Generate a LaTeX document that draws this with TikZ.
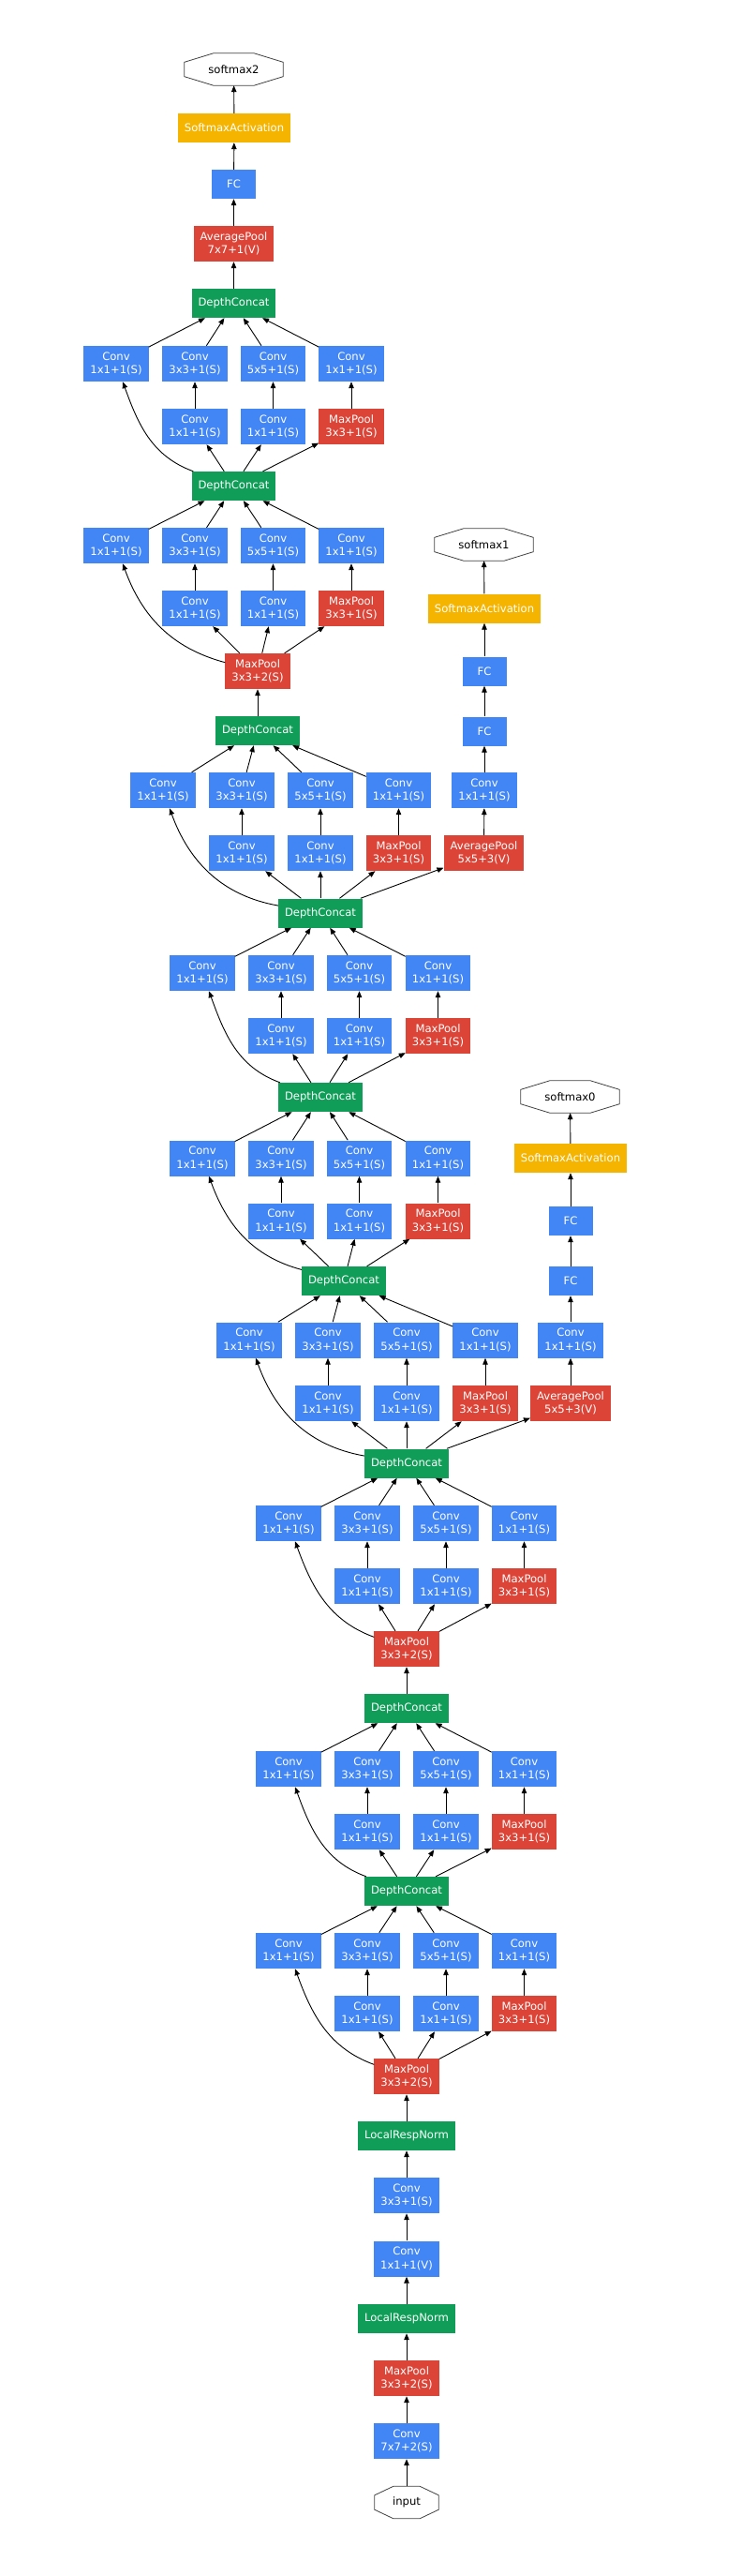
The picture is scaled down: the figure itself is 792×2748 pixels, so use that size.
\documentclass[tikz,border=0pt]{standalone}
\usepackage{fontspec}
\setmainfont{DejaVu Sans}
\usetikzlibrary{arrows.meta}
\definecolor{gblue}{HTML}{4285F4}
\definecolor{gred}{HTML}{DB4437}
\definecolor{ggreen}{HTML}{0F9D58}
\definecolor{gyellow}{HTML}{F4B400}
% octagon round a named node: name, horizontal cut
\newcommand{\octo}[2]{\draw[draw=black!75, line width=0.8pt]
  ([xshift=#2]#1.north west) -- ([xshift=-#2]#1.north east) -- ([yshift=-9.5pt]#1.north east)
  -- ([yshift=9.5pt]#1.south east) -- ([xshift=-#2]#1.south east) -- ([xshift=#2]#1.south west)
  -- ([yshift=9.5pt]#1.south west) -- ([yshift=-9.5pt]#1.north west) -- cycle;}

\begin{document}
\begin{tikzpicture}[x=1pt, y=1pt, >={Triangle[length=7pt,width=5.5pt]},
  every node/.style={font=\fontsize{11.6pt}{14.5pt}\selectfont, align=center},
  blk/.style={rectangle, text=white, inner xsep=7pt, inner ysep=2pt, minimum width=47pt, minimum height=31pt},
  conv/.style={blk, fill=gblue, minimum height=38pt},
  fc/.style={blk, fill=gblue},
  pool/.style={blk, fill=gred, minimum height=38pt},
  concat/.style={blk, fill=ggreen},
  act/.style={blk, fill=gyellow},
  io/.style={rectangle, text=black, inner sep=0pt, minimum height=34pt, minimum width=#1}]
\useasboundingbox (0,0) rectangle (792,-2748);

% stem
\node[io=68pt] (in) at (434,-2669.5) {input};
\node[conv] (c7) at (434,-2604) {Conv\\7x7+2(S)};
\node[pool] (mp1) at (434,-2537) {MaxPool\\3x3+2(S)};
\node[concat] (lrn1) at (434,-2473.5) {LocalRespNorm};
\node[conv] (c1v) at (434,-2409.5) {Conv\\1x1+1(V)};
\node[conv] (c3) at (434,-2342) {Conv\\3x3+1(S)};
\node[concat] (lrn2) at (434,-2278.5) {LocalRespNorm};
\node[pool] (mp2) at (434,-2215) {MaxPool\\3x3+2(S)};

% 3a
\node[conv] (a3_3r) at (392,-2148) {Conv\\1x1+1(S)};
\node[conv] (a3_5r) at (476,-2148) {Conv\\1x1+1(S)};
\node[pool] (a3_p) at (559.5,-2148) {MaxPool\\3x3+1(S)};
\node[conv] (a3_1) at (308,-2081) {Conv\\1x1+1(S)};
\node[conv] (a3_3) at (392,-2081) {Conv\\3x3+1(S)};
\node[conv] (a3_5) at (476,-2081) {Conv\\5x5+1(S)};
\node[conv] (a3_pp) at (559.5,-2081) {Conv\\1x1+1(S)};
\node[concat] (a3_dc) at (434,-2017.5) {DepthConcat};

% 3b
\node[conv] (b3_3r) at (392,-1954) {Conv\\1x1+1(S)};
\node[conv] (b3_5r) at (476,-1954) {Conv\\1x1+1(S)};
\node[pool] (b3_p) at (559.5,-1954) {MaxPool\\3x3+1(S)};
\node[conv] (b3_1) at (308,-1887) {Conv\\1x1+1(S)};
\node[conv] (b3_3) at (392,-1887) {Conv\\3x3+1(S)};
\node[conv] (b3_5) at (476,-1887) {Conv\\5x5+1(S)};
\node[conv] (b3_pp) at (559.5,-1887) {Conv\\1x1+1(S)};
\node[concat] (b3_dc) at (434,-1822.5) {DepthConcat};
\node[pool] (mp3) at (434,-1759) {MaxPool\\3x3+2(S)};

% 4a
\node[conv] (a4_3r) at (392,-1692) {Conv\\1x1+1(S)};
\node[conv] (a4_5r) at (476,-1692) {Conv\\1x1+1(S)};
\node[pool] (a4_p) at (559.5,-1692) {MaxPool\\3x3+1(S)};
\node[conv] (a4_1) at (308,-1625) {Conv\\1x1+1(S)};
\node[conv] (a4_3) at (392,-1625) {Conv\\3x3+1(S)};
\node[conv] (a4_5) at (476,-1625) {Conv\\5x5+1(S)};
\node[conv] (a4_pp) at (559.5,-1625) {Conv\\1x1+1(S)};
\node[concat] (a4_dc) at (434,-1561) {DepthConcat};

% 4b
\node[conv] (b4_3r) at (350,-1497) {Conv\\1x1+1(S)};
\node[conv] (b4_5r) at (434,-1497) {Conv\\1x1+1(S)};
\node[pool] (b4_p) at (518,-1497) {MaxPool\\3x3+1(S)};
\node[conv] (b4_1) at (266,-1429.5) {Conv\\1x1+1(S)};
\node[conv] (b4_3) at (350,-1429.5) {Conv\\3x3+1(S)};
\node[conv] (b4_5) at (434,-1429.5) {Conv\\5x5+1(S)};
\node[conv] (b4_pp) at (518,-1429.5) {Conv\\1x1+1(S)};
\node[concat] (b4_dc) at (367,-1366.5) {DepthConcat};

% softmax0
\node[pool] (ap0) at (609,-1497) {AveragePool\\5x5+3(V)};
\node[conv] (ac0) at (609,-1429.5) {Conv\\1x1+1(S)};
\node[fc] (fa0) at (609,-1366.5) {FC};
\node[fc] (fb0) at (609,-1302.5) {FC};
\node[act] (sa0) at (609,-1235.5) {SoftmaxActivation};
\node[io=105pt] (sm0) at (608.5,-1170) {softmax0};

% 4c
\node[conv] (c4_3r) at (300,-1302.5) {Conv\\1x1+1(S)};
\node[conv] (c4_5r) at (383.5,-1302.5) {Conv\\1x1+1(S)};
\node[pool] (c4_p) at (467.5,-1302.5) {MaxPool\\3x3+1(S)};
\node[conv] (c4_1) at (216,-1235.5) {Conv\\1x1+1(S)};
\node[conv] (c4_3) at (300,-1235.5) {Conv\\3x3+1(S)};
\node[conv] (c4_5) at (383.5,-1235.5) {Conv\\5x5+1(S)};
\node[conv] (c4_pp) at (467.5,-1235.5) {Conv\\1x1+1(S)};
\node[concat] (c4_dc) at (342,-1170.5) {DepthConcat};

% 4d
\node[conv] (d4_3r) at (300,-1105) {Conv\\1x1+1(S)};
\node[conv] (d4_5r) at (383.5,-1105) {Conv\\1x1+1(S)};
\node[pool] (d4_p) at (467.5,-1105) {MaxPool\\3x3+1(S)};
\node[conv] (d4_1) at (216,-1038) {Conv\\1x1+1(S)};
\node[conv] (d4_3) at (300,-1038) {Conv\\3x3+1(S)};
\node[conv] (d4_5) at (383.5,-1038) {Conv\\5x5+1(S)};
\node[conv] (d4_pp) at (467.5,-1038) {Conv\\1x1+1(S)};
\node[concat] (d4_dc) at (342,-974) {DepthConcat};

% softmax1
\node[pool] (ap1) at (516.5,-910) {AveragePool\\5x5+3(V)};
\node[conv] (ac1) at (517,-843) {Conv\\1x1+1(S)};
\node[fc] (fa1) at (517,-780) {FC};
\node[fc] (fb1) at (517,-716) {FC};
\node[act] (sa1) at (517,-649) {SoftmaxActivation};
\node[io=105pt] (sm1) at (516.5,-581) {softmax1};

% 4e
\node[conv] (e4_3r) at (258,-910) {Conv\\1x1+1(S)};
\node[conv] (e4_5r) at (342,-910) {Conv\\1x1+1(S)};
\node[pool] (e4_p) at (425.5,-910) {MaxPool\\3x3+1(S)};
\node[conv] (e4_1) at (174,-843) {Conv\\1x1+1(S)};
\node[conv] (e4_3) at (258,-843) {Conv\\3x3+1(S)};
\node[conv] (e4_5) at (342,-843) {Conv\\5x5+1(S)};
\node[conv] (e4_pp) at (425.5,-843) {Conv\\1x1+1(S)};
\node[concat] (e4_dc) at (275,-779.5) {DepthConcat};
\node[pool] (mp4) at (275,-716) {MaxPool\\3x3+2(S)};

% 5a
\node[conv] (a5_3r) at (208,-649) {Conv\\1x1+1(S)};
\node[conv] (a5_5r) at (291.5,-649) {Conv\\1x1+1(S)};
\node[pool] (a5_p) at (375,-649) {MaxPool\\3x3+1(S)};
\node[conv] (a5_1) at (124,-582) {Conv\\1x1+1(S)};
\node[conv] (a5_3) at (208,-582) {Conv\\3x3+1(S)};
\node[conv] (a5_5) at (291.5,-582) {Conv\\5x5+1(S)};
\node[conv] (a5_pp) at (375,-582) {Conv\\1x1+1(S)};
\node[concat] (a5_dc) at (249.5,-518.5) {DepthConcat};

% 5b
\node[conv] (b5_3r) at (208,-455) {Conv\\1x1+1(S)};
\node[conv] (b5_5r) at (291.5,-455) {Conv\\1x1+1(S)};
\node[pool] (b5_p) at (375,-455) {MaxPool\\3x3+1(S)};
\node[conv] (b5_1) at (124,-388) {Conv\\1x1+1(S)};
\node[conv] (b5_3) at (208,-388) {Conv\\3x3+1(S)};
\node[conv] (b5_5) at (291.5,-388) {Conv\\5x5+1(S)};
\node[conv] (b5_pp) at (375,-388) {Conv\\1x1+1(S)};
\node[concat] (b5_dc) at (249.5,-323.5) {DepthConcat};

% softmax2
\node[pool] (ap2) at (249.5,-260) {AveragePool\\7x7+1(V)};
\node[fc] (fc2) at (249.5,-196.5) {FC};
\node[act] (sa2) at (250,-136.5) {SoftmaxActivation};
\node[io=105pt] (sm2) at (249.5,-74) {softmax2};

\octo{in}{20pt}
\octo{sm0}{31pt}
\octo{sm1}{31pt}
\octo{sm2}{31pt}

\path[->, line width=0.9pt]
  (in) edge (c7) (c7) edge (mp1) (mp1) edge (lrn1) (lrn1) edge (c1v)
  (c1v) edge (c3) (c3) edge (lrn2) (lrn2) edge (mp2)
  % 3a
  (mp2) edge[out=160, in=-70] (a3_1) edge (a3_3r) edge (a3_5r) edge (a3_p)
  (a3_3r) edge (a3_3) (a3_5r) edge (a3_5) (a3_p) edge (a3_pp)
  (a3_1) edge (a3_dc) (a3_3) edge (a3_dc) (a3_5) edge (a3_dc) (a3_pp) edge (a3_dc)
  % 3b
  (a3_dc) edge[out=160, in=-70] (b3_1) edge (b3_3r) edge (b3_5r) edge (b3_p)
  (b3_3r) edge (b3_3) (b3_5r) edge (b3_5) (b3_p) edge (b3_pp)
  (b3_1) edge (b3_dc) (b3_3) edge (b3_dc) (b3_5) edge (b3_dc) (b3_pp) edge (b3_dc)
  (b3_dc) edge (mp3)
  % 4a
  (mp3) edge[out=160, in=-70] (a4_1) edge (a4_3r) edge (a4_5r) edge (a4_p)
  (a4_3r) edge (a4_3) (a4_5r) edge (a4_5) (a4_p) edge (a4_pp)
  (a4_1) edge (a4_dc) (a4_3) edge (a4_dc) (a4_5) edge (a4_dc) (a4_pp) edge (a4_dc)
  % 4b
  (a4_dc) edge[out=170, in=-70] (b4_1) edge (b4_3r) edge (b4_5r) edge (b4_p) edge (ap0)
  (b4_3r) edge (b4_3) (b4_5r) edge (b4_5) (b4_p) edge (b4_pp)
  (b4_1) edge (b4_dc) (b4_3) edge (b4_dc) (b4_5) edge (b4_dc) (b4_pp) edge (b4_dc)
  (ap0) edge (ac0) (ac0) edge (fa0) (fa0) edge (fb0) (fb0) edge (sa0) (sa0) edge (sm0)
  % 4c
  (b4_dc) edge[out=165, in=-70] (c4_1) edge (c4_3r) edge (c4_5r) edge (c4_p)
  (c4_3r) edge (c4_3) (c4_5r) edge (c4_5) (c4_p) edge (c4_pp)
  (c4_1) edge (c4_dc) (c4_3) edge (c4_dc) (c4_5) edge (c4_dc) (c4_pp) edge (c4_dc)
  % 4d
  (c4_dc) edge[out=160, in=-70] (d4_1) edge (d4_3r) edge (d4_5r) edge (d4_p)
  (d4_3r) edge (d4_3) (d4_5r) edge (d4_5) (d4_p) edge (d4_pp)
  (d4_1) edge (d4_dc) (d4_3) edge (d4_dc) (d4_5) edge (d4_dc) (d4_pp) edge (d4_dc)
  % 4e
  (d4_dc) edge[out=170, in=-70] (e4_1) edge (e4_3r) edge (e4_5r) edge (e4_p) edge (ap1)
  (e4_3r) edge (e4_3) (e4_5r) edge (e4_5) (e4_p) edge (e4_pp)
  (e4_1) edge (e4_dc) (e4_3) edge (e4_dc) (e4_5) edge (e4_dc) (e4_pp) edge (e4_dc)
  (ap1) edge (ac1) (ac1) edge (fa1) (fa1) edge (fb1) (fb1) edge (sa1) (sa1) edge (sm1)
  (e4_dc) edge (mp4)
  % 5a
  (mp4) edge[out=165, in=-70] (a5_1) edge (a5_3r) edge (a5_5r) edge (a5_p)
  (a5_3r) edge (a5_3) (a5_5r) edge (a5_5) (a5_p) edge (a5_pp)
  (a5_1) edge (a5_dc) (a5_3) edge (a5_dc) (a5_5) edge (a5_dc) (a5_pp) edge (a5_dc)
  % 5b
  (a5_dc) edge[out=160, in=-70] (b5_1) edge (b5_3r) edge (b5_5r) edge (b5_p)
  (b5_3r) edge (b5_3) (b5_5r) edge (b5_5) (b5_p) edge (b5_pp)
  (b5_1) edge (b5_dc) (b5_3) edge (b5_dc) (b5_5) edge (b5_dc) (b5_pp) edge (b5_dc)
  (b5_dc) edge (ap2) (ap2) edge (fc2) (fc2) edge (sa2) (sa2) edge (sm2);
\end{tikzpicture}
\end{document}
